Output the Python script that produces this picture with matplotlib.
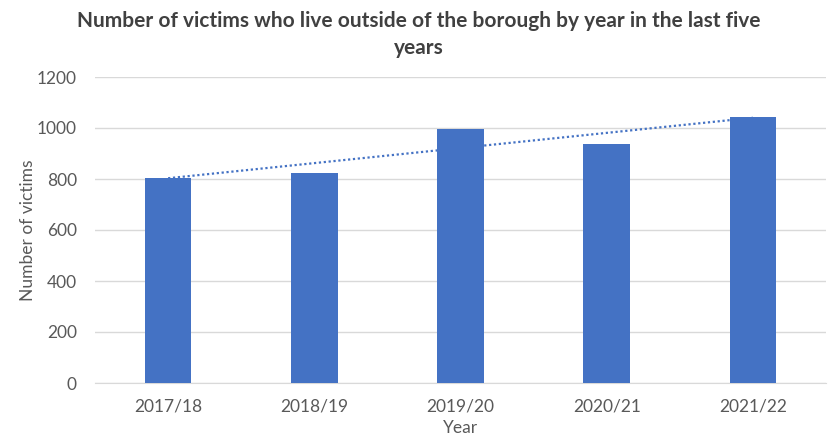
import matplotlib
matplotlib.use("Agg")
import matplotlib.pyplot as plt
import numpy as np

plt.rcParams['font.family'] = ['Lato', 'DejaVu Sans']

years = ['2017/18', '2018/19', '2019/20', '2020/21', '2021/22']
victims = [805, 825, 995, 938, 1045]

blue = '#4472C4'
grey = '#595959'

fig = plt.figure(figsize=(8.29, 4.41), dpi=100)
ax = fig.add_axes([95 / 829, 1 - 383 / 441, 731 / 829, 306 / 441])

x = np.arange(len(years))
ax.bar(x, victims, width=0.32, color=blue, zorder=3)

# linear trendline, like Excel
k, b = np.polyfit(x, victims, 1)
ax.plot(x, k * x + b, linestyle=(0, (1, 1.2)), color=blue, linewidth=1.6, zorder=4)

ax.set_xlim(-0.5, len(years) - 0.5)
ax.set_ylim(0, 1200)
ax.set_yticks(range(0, 1201, 200))
ax.set_xticks(x)
ax.set_xticklabels(years)
ax.grid(axis='y', color='#D9D9D9', linewidth=1, zorder=0)
for s in ['top', 'right', 'left']:
    ax.spines[s].set_visible(False)
ax.spines['bottom'].set_color('#D9D9D9')
ax.tick_params(axis='both', length=0, labelsize=12.5, colors=grey)
ax.tick_params(axis='x', pad=11)
ax.tick_params(axis='y', pad=13)

ax.set_xlabel('Year', fontsize=12.5, color=grey, labelpad=4)
ax.set_ylabel('Number of victims', fontsize=12.5, color=grey, labelpad=1)

fig.text(0.505, 0.975, 'Number of victims who live outside of the borough by year in the last five\nyears',
         ha='center', va='top', fontsize=15, fontweight='bold', color='#404040',
         linespacing=1.45)

fig.savefig('out.png', dpi=100)
